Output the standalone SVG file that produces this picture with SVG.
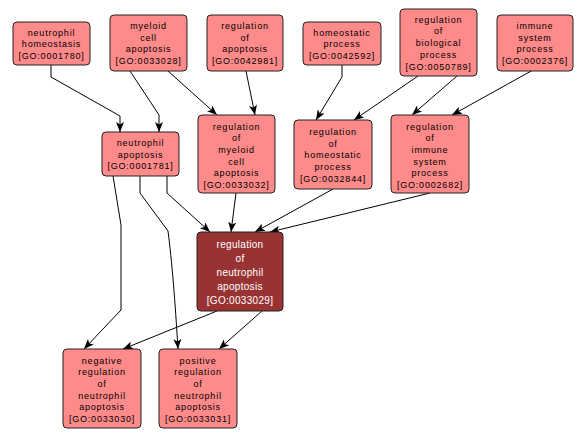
<svg xmlns="http://www.w3.org/2000/svg" width="587" height="438" viewBox="0 0 587 438">
<style>
.n rect{fill:#ff8a8a;stroke:#222;stroke-width:1}
.n text{font-family:"Liberation Sans",Arial,sans-serif;font-size:9px;letter-spacing:0.8px;fill:#000;text-anchor:middle}
.c rect{fill:#993333;stroke:#222;stroke-width:1}
.c text{font-family:"Liberation Sans",Arial,sans-serif;font-size:10px;letter-spacing:0.3px;fill:#fff;text-anchor:middle}
.e path{fill:none;stroke:#000;stroke-width:1;marker-end:url(#a)}
</style>
<defs>
<marker id="a" markerUnits="userSpaceOnUse" markerWidth="10" markerHeight="8" viewBox="0 0 10 8" refX="10" refY="4" orient="auto">
<path d="M0,0 L10,4 L0,8 L2.5,4 z" fill="#000"/>
</marker>
</defs>
<rect width="587" height="438" fill="#fff"/>
<g id="connectors" class="e">
<path d="M51,65 L51,77 L120,116 L120,132"/>
<path d="M130,71 L159,115 L159,132"/>
<path d="M168,71 L217,115"/>
<path d="M246,71 L255,115"/>
<path d="M342,65 L342,77 L316,120"/>
<path d="M418,76 L354,120"/>
<path d="M457,76 L412,115"/>
<path d="M533,70 L452,115"/>
<path d="M167,176 L167,193 L210,232"/>
<path d="M236,193 L231,232"/>
<path d="M333,189 L255,232"/>
<path d="M430,193 L270,232"/>
<path d="M113,176 L121,225 L121,310 L84,349"/>
<path d="M140,176 L140,193 L168,231 C172,262 175,300 178,349"/>
<path d="M217,311 L123,349"/>
<path d="M262,311 L219,349"/>
</g>
<g id="GO0001780" class="n"><rect x="13" y="22" width="77" height="43" rx="4"/>
<text x="51.5" y="35.5">neutrophil</text><text x="51.5" y="47">homeostasis</text><text x="51.5" y="58.5">[GO:0001780]</text></g>
<g id="GO0033028" class="n"><rect x="110" y="15" width="77" height="56" rx="4"/>
<text x="148.5" y="29">myeloid</text><text x="148.5" y="40.7">cell</text><text x="148.5" y="52.4">apoptosis</text><text x="148.5" y="64">[GO:0033028]</text></g>
<g id="GO0042981" class="n"><rect x="207" y="15" width="76" height="56" rx="4"/>
<text x="245" y="29">regulation</text><text x="245" y="40.7">of</text><text x="245" y="52.4">apoptosis</text><text x="245" y="64">[GO:0042981]</text></g>
<g id="GO0042592" class="n"><rect x="303" y="22" width="78" height="43" rx="4"/>
<text x="342" y="35.5">homeostatic</text><text x="342" y="47">process</text><text x="342" y="58.5">[GO:0042592]</text></g>
<g id="GO0050789" class="n"><rect x="400" y="9" width="77" height="67" rx="4"/>
<text x="438.5" y="22.7">regulation</text><text x="438.5" y="34.4">of</text><text x="438.5" y="46.1">biological</text><text x="438.5" y="57.8">process</text><text x="438.5" y="69.5">[GO:0050789]</text></g>
<g id="GO0002376" class="n"><rect x="497" y="15" width="76" height="56" rx="4"/>
<text x="535" y="29">immune</text><text x="535" y="40.7">system</text><text x="535" y="52.4">process</text><text x="535" y="64">[GO:0002376]</text></g>
<g id="GO0001781" class="n"><rect x="102" y="132" width="77" height="44" rx="4"/>
<text x="140.5" y="146">neutrophil</text><text x="140.5" y="157.5">apoptosis</text><text x="140.5" y="169">[GO:0001781]</text></g>
<g id="GO0033032" class="n"><rect x="198" y="115" width="77" height="78" rx="4"/>
<text x="236.5" y="129.5">regulation</text><text x="236.5" y="141.2">of</text><text x="236.5" y="152.9">myeloid</text><text x="236.5" y="164.6">cell</text><text x="236.5" y="176.3">apoptosis</text><text x="236.5" y="188">[GO:0033032]</text></g>
<g id="GO0032844" class="n"><rect x="294" y="120" width="78" height="69" rx="4"/>
<text x="333" y="134.8">regulation</text><text x="333" y="146.5">of</text><text x="333" y="158.2">homeostatic</text><text x="333" y="169.9">process</text><text x="333" y="181.6">[GO:0032844]</text></g>
<g id="GO0002682" class="n"><rect x="391" y="115" width="78" height="78" rx="4"/>
<text x="430" y="129.5">regulation</text><text x="430" y="141.2">of</text><text x="430" y="152.9">immune</text><text x="430" y="164.6">system</text><text x="430" y="176.3">process</text><text x="430" y="188">[GO:0002682]</text></g>
<g id="GO0033029" class="c"><rect x="197" y="232" width="86" height="79" rx="4"/>
<text x="240" y="247.5">regulation</text><text x="240" y="261.5">of</text><text x="240" y="275.5">neutrophil</text><text x="240" y="289.5">apoptosis</text><text x="240" y="303.5">[GO:0033029]</text></g>
<g id="GO0033030" class="n"><rect x="63" y="349" width="78" height="79" rx="4"/>
<text x="102" y="363.5">negative</text><text x="102" y="375.2">regulation</text><text x="102" y="386.9">of</text><text x="102" y="398.6">neutrophil</text><text x="102" y="410.3">apoptosis</text><text x="102" y="422">[GO:0033030]</text></g>
<g id="GO0033031" class="n"><rect x="159" y="349" width="78" height="79" rx="4"/>
<text x="198" y="363.5">positive</text><text x="198" y="375.2">regulation</text><text x="198" y="386.9">of</text><text x="198" y="398.6">neutrophil</text><text x="198" y="410.3">apoptosis</text><text x="198" y="422">[GO:0033031]</text></g>
</svg>
